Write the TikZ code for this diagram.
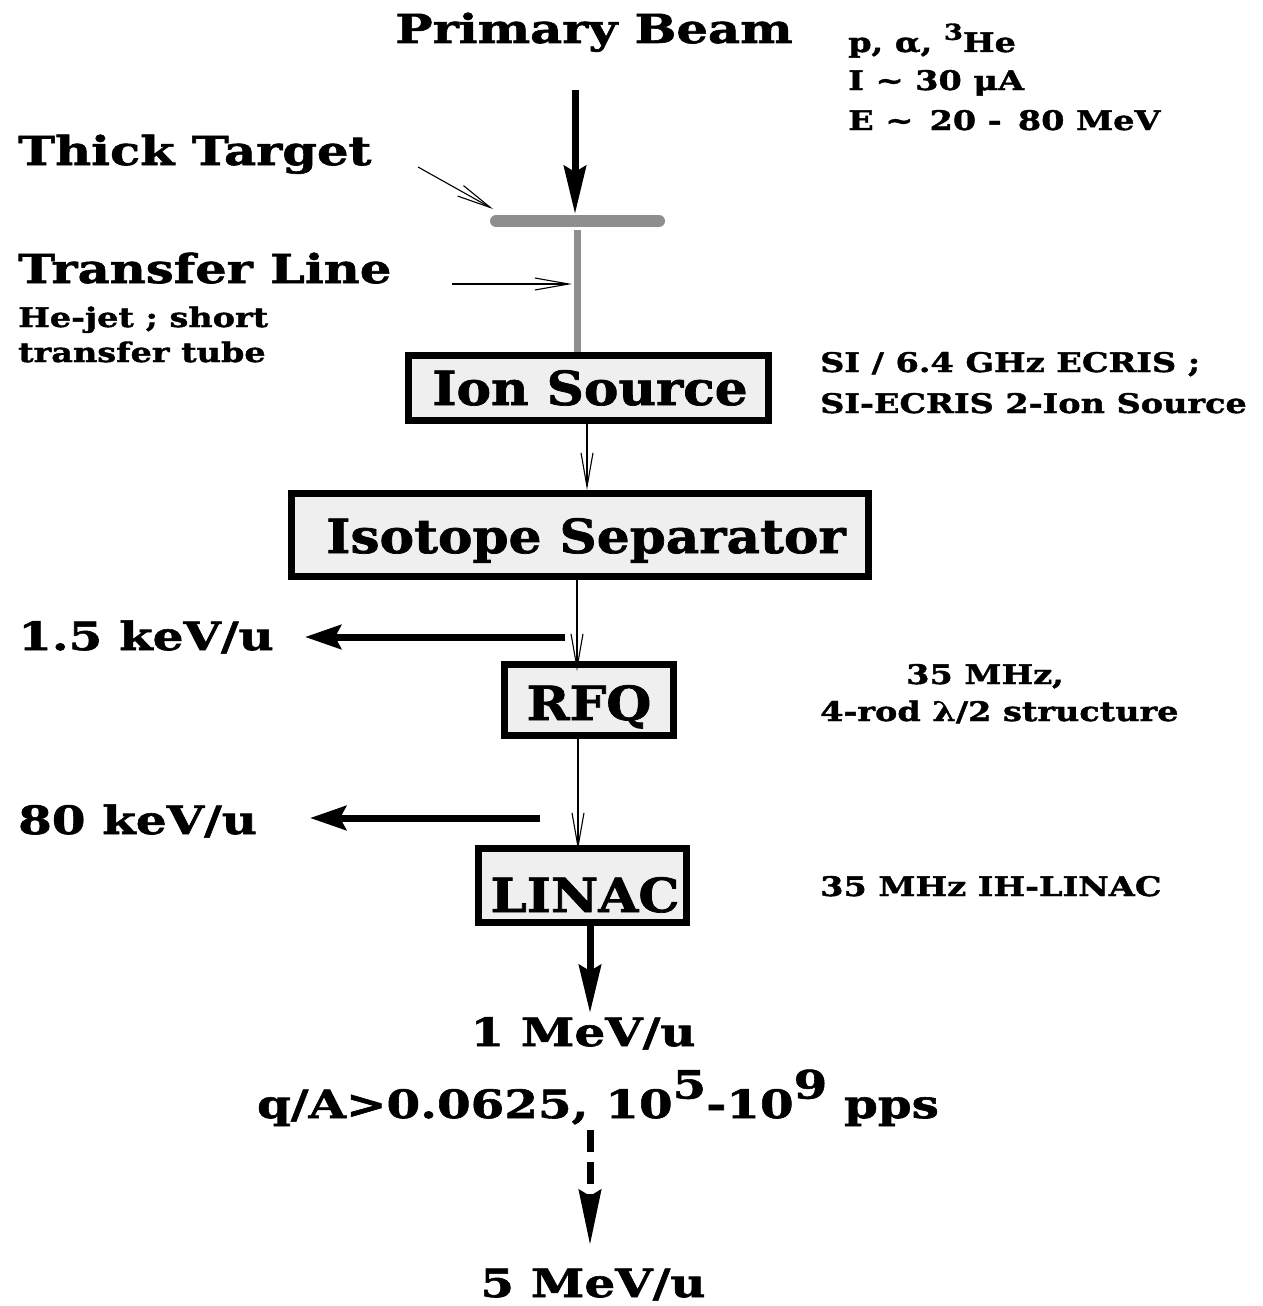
\documentclass[tikz,border=0pt]{standalone}
\usepackage{fontspec}
\setmainfont{DejaVu Serif}[FakeStretch=1.1,BoldFeatures={FakeBold=1.5}]
\newfontfamily\widefont{DejaVu Serif}[FakeStretch=1.24,BoldFeatures={FakeBold=1.5}]
\usetikzlibrary{arrows.meta}
\definecolor{bargray}{HTML}{8E8E8E}
\definecolor{boxfill}{HTML}{EFEFEF}
\begin{document}
\begin{tikzpicture}[x=1pt,y=-1pt,
  big/.style={inner sep=0pt,font=\widefont\bfseries\fontsize{40}{44}\selectfont},
  mid/.style={inner sep=0pt,font=\widefont\bfseries\fontsize{39}{42}\selectfont},
  small/.style={inner sep=0pt,font=\widefont\bfseries\fontsize{27}{30}\selectfont},
  boxt/.style={inner sep=0pt,font=\bfseries\fontsize{47}{50}\selectfont},
  stagebox/.style={draw=black,line width=7pt,fill=boxfill,inner sep=0pt},
  thinarrow/.style={line width=1.1pt,-{Straight Barb[length=34pt,width=12pt]}},
  thickarrow/.style={line width=7pt,-{Stealth[length=48pt,width=22pt,inset=6pt]}},
  leftarrow/.style={line width=7pt,-{Stealth[length=36pt,width=24pt,inset=6pt]}},
]
\useasboundingbox (0,0) rectangle (1263,1306);
% titles
\node[big,anchor=base] (pb) at (594,43) {Primary Beam};
\node[small,anchor=base west] (b1) at (848,52) {p, α, \raisebox{0.45em}{\fontsize{22}{24}\selectfont 3}He};
\node[small,anchor=base west] (b2) at (848,90) {I \textasciitilde{} 30 μA};
\node[small,anchor=base west] (b3) at (848,130) {E \textasciitilde{}\, 20 -\, 80 MeV};
\node[big,anchor=base west] (tt) at (18,165) {Thick Target};
\node[big,anchor=base west] (tl) at (18,283) {Transfer Line};
\node[small,anchor=base west] (h1) at (18,327) {He-jet ; short};
\node[small,anchor=base west] (h2) at (18,362) {transfer tube};
% target and transfer line
\coordinate (barL) at (496,221);
\coordinate (barR) at (659,221);
\coordinate (beamtop) at (575,90);
\coordinate (beamhit) at (575,214);
\coordinate (tubetop) at (577,230);
\draw[bargray,line width=12pt,line cap=round] (barL) -- (barR);
% boxes
\node[stagebox,minimum width=360pt,minimum height=65pt] (ion) at (588.5,388) {};
\node[boxt,anchor=base] (iont) at (590,405) {Ion Source};
\node[stagebox,minimum width=577pt,minimum height=83pt] (iso) at (580,535) {};
\node[boxt,anchor=base] (isot) at (586,553) {Isotope Separator};
\node[stagebox,minimum width=169pt,minimum height=71pt] (rfq) at (589,700) {};
\node[boxt,anchor=base] (rfqt) at (589,720) {RFQ};
\node[stagebox,minimum width=208pt,minimum height=74pt] (linac) at (582.5,885.5) {};
\node[boxt,anchor=base] (linact) at (585,912) {LINAC};
\draw[bargray,line width=7pt] (tubetop) -- (tubetop |- ion.north);
\draw[thickarrow] (beamtop) -- (beamhit);
\coordinate (ttfrom) at (418,167);
\coordinate (ttto) at (493,209);
\draw[thinarrow] (ttfrom) -- (ttto);
\coordinate (tlfrom) at (452,284);
\coordinate (tlto) at (572,284);
\draw[thinarrow] (tlfrom) -- (tlto);
% right labels
\node[small,anchor=base west] (s1) at (820,372) {SI / 6.4 GHz ECRIS ;};
\node[small,anchor=base west] (s2) at (820,413) {SI-ECRIS 2-Ion Source};
\node[small,anchor=base] (r1) at (985,684) {35 MHz,};
\node[small,anchor=base west] (r2) at (820,721) {4-rod λ/2 structure};
\node[small,anchor=base west] (l1) at (820,896) {35 MHz IH-LINAC};
% flow arrows
\draw[thinarrow] (ion.south -| 587,0) -- (iso.north -| 587,0);
\draw[thinarrow] (iso.south -| 577,0) -- ([yshift=-10pt]rfq.north -| 577,0);
\draw[thinarrow] (rfq.south -| 578,0) -- ([yshift=-5pt]linac.north -| 578,0);
% extraction arrows
\node[mid,anchor=base west] (e1) at (18,650) {1.5 keV/u};
\coordinate (e1s) at (565,637);
\coordinate (e1e) at (305,637);
\draw[leftarrow] (e1s) -- (e1e);
\node[mid,anchor=base west] (e2) at (18,834) {80 keV/u};
\coordinate (e2s) at (540,818);
\coordinate (e2e) at (310,818);
\draw[leftarrow] (e2s) -- (e2e);
% output
\node[mid,anchor=base] (o1) at (583,1046) {1 MeV/u};
\node[mid,anchor=base] (o2) at (598,1118) {q/A>0.0625, 10\raisebox{0.5em}{5}-10\raisebox{0.5em}{9} pps};
\node[mid,anchor=base] (o3) at (593,1297) {5 MeV/u};
\coordinate (o1top) at (590,1013);
\coordinate (dashtop) at (590,1130);
\coordinate (dashend) at (590,1245);
\draw[thickarrow] (linac.south -| o1top) -- (o1top);
\draw[line width=7pt,dash pattern=on 22pt off 10pt,-{Stealth[length=55pt,width=22pt,inset=6pt]}] (dashtop) -- (dashend);
\end{tikzpicture}
\end{document}
